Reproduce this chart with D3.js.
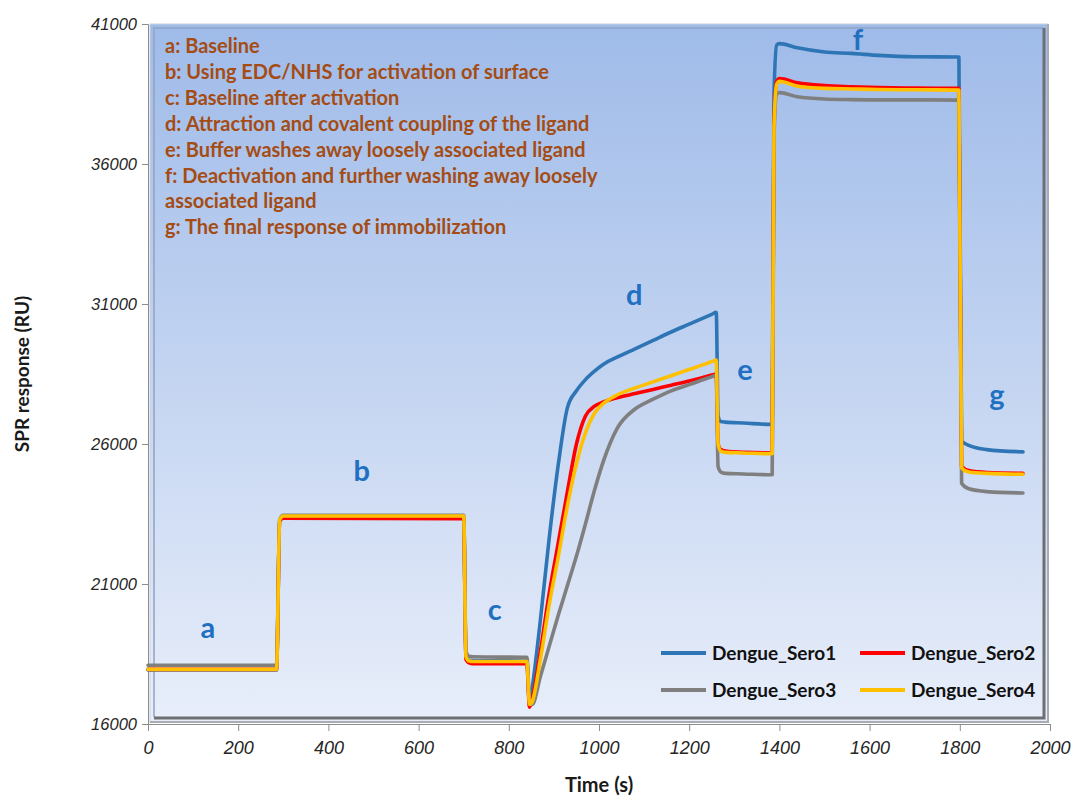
<!DOCTYPE html>
<html>
<head>
<meta charset="utf-8">
<script src="https://cdn.jsdelivr.net/npm/d3@7"></script>
<style>
  html, body { margin: 0; padding: 0; background: #fff; }
  svg { display: block; }
</style>
</head>
<body>
<div id="chart"></div>
<script>
// sample times (s) shared by all four sensorgrams
const times = [0, 285, 292, 300, 700, 705, 712, 720, 840, 846, 852, 870, 890, 910, 930, 950, 970, 990, 1010, 1040,
  1080, 1120, 1160, 1200, 1250, 1260, 1264, 1270, 1280, 1320, 1384, 1388, 1394, 1400, 1440, 1500, 1560, 1620, 1700, 1798,
  1804, 1820, 1860, 1940];

const sero1 = [17930, 17930, 23250, 23380, 23380, 18400, 18280, 18270, 18250, 16700, 17300, 19700, 22700, 25300, 27300,
  27900, 28300, 28600, 28850, 29100, 29400, 29700, 30000, 30280, 30630, 30700, 27000, 26800, 26780, 26750, 26700, 38500,
  40250, 40300, 40150, 40000, 39950, 39880, 39830, 39820, 26100, 25950, 25800, 25720];
const sero2 = [17950, 17950, 23250, 23350, 23330, 18300, 18180, 18150, 18150, 16600, 16900, 18600, 20700, 22500, 24300,
  26000, 27000, 27350, 27500, 27650, 27800, 27950, 28100, 28250, 28460, 28500, 26000, 25800, 25750, 25700, 25680, 37500,
  38950, 39050, 38900, 38800, 38760, 38730, 38710, 38700, 25200, 25050, 24980, 24950];
const sero3 = [18100, 18100, 23300, 23450, 23450, 18600, 18420, 18400, 18380, 16900, 16700, 17700, 18800, 19900, 20950,
  22000, 23150, 24350, 25400, 26550, 27250, 27600, 27900, 28120, 28400, 28450, 25200, 25000, 24950, 24930, 24900, 37000,
  38500, 38550, 38400, 38320, 38300, 38290, 38290, 38280, 24600, 24400, 24300, 24250];
const sero4 = [17950, 17950, 23300, 23430, 23430, 18400, 18250, 18230, 18230, 16700, 16800, 18300, 20300, 22000, 23800,
  25300, 26400, 27100, 27450, 27750, 28000, 28220, 28440, 28660, 28940, 29000, 26000, 25750, 25700, 25680, 25650, 37300,
  38850, 38950, 38780, 38700, 38680, 38660, 38650, 38640, 25150, 25000, 24950, 24920];

const seriesNames = ["Dengue_Sero1", "Dengue_Sero2", "Dengue_Sero3", "Dengue_Sero4"];
const seriesColors = ["#2e75b6", "#ff0000", "#7f7f7f", "#ffc000"];
const seriesValues = [sero1, sero2, sero3, sero4];

const xTicks = [0, 200, 400, 600, 800, 1000, 1200, 1400, 1600, 1800, 2000];
const yTicks = [16000, 21000, 26000, 31000, 36000, 41000];

// phase letters, placed in data units
const phaseLabels = [
  { text: "a", t: 133, v: 19070 },
  { text: "b", t: 474, v: 24680 },
  { text: "c", t: 769, v: 19710 },
  { text: "d", t: 1078, v: 30960 },
  { text: "e", t: 1324, v: 28290 },
  { text: "f", t: 1574, v: 40070 },
  { text: "g", t: 1882, v: 27390 }
];

const notes = [
  "a: Baseline",
  "b: Using EDC/NHS for activation of surface",
  "c: Baseline after activation",
  "d: Attraction and covalent coupling of the ligand",
  "e: Buffer washes away loosely associated ligand",
  "f: Deactivation and further washing away loosely",
  "associated ligand",
  "g: The final response of immobilization"
];

const width = 1079, height = 798;
const margin = { left: 148, right: 29, top: 24, bottom: 74 };

const svg = d3.select("#chart").append("svg")
  .attr("width", width)
  .attr("height", height);

const x = d3.scaleLinear().domain([0, 2000]).range([margin.left, width - margin.right]);
const y = d3.scaleLinear().domain([16000, 41000]).range([height - margin.bottom, margin.top]);

// plot area background, blue gradient with a bevelled frame
const defs = svg.append("defs");
const grad = defs.append("linearGradient")
  .attr("id", "bg").attr("x1", 0).attr("y1", 0).attr("x2", 0).attr("y2", 1);
grad.append("stop").attr("offset", "0%").attr("stop-color", "#9fbbe9");
grad.append("stop").attr("offset", "50%").attr("stop-color", "#c3d4f1");
grad.append("stop").attr("offset", "100%").attr("stop-color", "#e8eefa");

const px0 = x(0) + 2, px1 = x(2000) - 2, py0 = y(41000), py1 = y(16000) - 2;

svg.append("rect")
  .attr("x", px0).attr("y", py0)
  .attr("width", px1 - px0).attr("height", py1 - py0)
  .attr("fill", "url(#bg)")
  .attr("stroke", "#c9d1dd").attr("stroke-width", 1);

// inner bevel: light top/left, dark right/bottom
svg.append("path")
  .attr("d", `M${px0 + 4},${py1 - 5} L${px0 + 4},${py0 + 4} L${px1 - 5},${py0 + 4}`)
  .attr("fill", "none").attr("stroke", "#8ea3c4").attr("stroke-width", 1.5);
svg.append("path")
  .attr("d", `M${px0 + 4},${py1 - 4} L${px1 - 4},${py1 - 4} L${px1 - 4},${py0 + 4}`)
  .attr("fill", "none").attr("stroke", "#6d6f73").attr("stroke-width", 3);
svg.append("path")
  .attr("d", `M${px0},${py1} L${px1},${py1} L${px1},${py0}`)
  .attr("fill", "none").attr("stroke", "#a9adb3").attr("stroke-width", 2);

// axes
const xAxis = svg.append("g")
  .attr("transform", `translate(0,${y(16000)})`)
  .call(d3.axisBottom(x).tickValues(xTicks).tickSize(7).tickPadding(10).tickFormat(d3.format("d")));
const yAxis = svg.append("g")
  .attr("transform", `translate(${x(0)},0)`)
  .call(d3.axisLeft(y).tickValues(yTicks).tickSize(6).tickPadding(5).tickFormat(d3.format("d")));

[xAxis, yAxis].forEach(g => {
  g.select(".domain").attr("stroke", "#8c8c8c").attr("stroke-width", 1);
  g.selectAll(".tick line").attr("stroke", "#8c8c8c");
  g.selectAll("text")
    .attr("fill", "#262626")
    .style("font-style", "italic");
});
xAxis.selectAll("text")
  .style("font-family", "'Liberation Sans Narrow', 'Liberation Sans', sans-serif")
  .style("font-size", "18px");
yAxis.selectAll("text")
  .style("font-family", "'Liberation Sans', sans-serif")
  .style("font-size", "16.5px");

// axis titles
svg.append("text")
  .attr("x", (x(0) + x(2000)) / 2).attr("y", 792)
  .attr("text-anchor", "middle")
  .style("font-family", "Lato, 'Open Sans', sans-serif")
  .style("font-weight", "bold").style("font-size", "20px")
  .attr("fill", "#1a1a1a")
  .text("Time (s)");

svg.append("text")
  .attr("transform", `translate(29,${(y(16000) + y(41000)) / 2}) rotate(-90)`)
  .attr("text-anchor", "middle")
  .style("font-family", "Lato, 'Open Sans', sans-serif")
  .style("font-weight", "bold").style("font-size", "19px")
  .attr("fill", "#1a1a1a")
  .text("SPR response (RU)");

// sensorgram lines
const line = d3.line()
  .x((d, i) => x(times[i]))
  .y(d => y(d))
  .curve(d3.curveMonotoneX);

svg.append("g").selectAll("path")
  .data(seriesValues)
  .join("path")
  .attr("d", line)
  .attr("fill", "none")
  .attr("stroke", (d, i) => seriesColors[i])
  .attr("stroke-width", 3.6)
  .attr("stroke-linejoin", "round")
  .attr("stroke-linecap", "round");

// phase letters
svg.append("g").selectAll("text")
  .data(phaseLabels)
  .join("text")
  .attr("x", d => x(d.t)).attr("y", d => y(d.v))
  .attr("text-anchor", "middle")
  .style("font-family", "Lato, 'Open Sans', sans-serif")
  .style("font-weight", "bold").style("font-size", "29px")
  .attr("fill", "#1f70c1")
  .text(d => d.text);

// notes box text
svg.append("g").selectAll("text")
  .data(notes)
  .join("text")
  .attr("x", 165)
  .attr("y", (d, i) => 53 + i * 25.9)
  .style("font-family", "Lato, 'Open Sans', sans-serif")
  .style("font-weight", "bold").style("font-size", "20px")
  .attr("fill", "#a44c14")
  .text(d => d);

// legend, two columns
const legend = svg.append("g").selectAll("g")
  .data(seriesNames)
  .join("g")
  .attr("transform", (d, i) => `translate(${661 + (i % 2) * 199},${653 + Math.floor(i / 2) * 37})`);
legend.append("line")
  .attr("x1", 0).attr("x2", 45)
  .attr("stroke", (d, i) => seriesColors[i])
  .attr("stroke-width", 4);
legend.append("text")
  .attr("x", 51).attr("dy", "0.35em")
  .style("font-family", "Lato, 'Open Sans', sans-serif")
  .style("font-weight", "bold").style("font-size", "19px")
  .attr("fill", "#111")
  .text(d => d);
</script>
</body>
</html>
